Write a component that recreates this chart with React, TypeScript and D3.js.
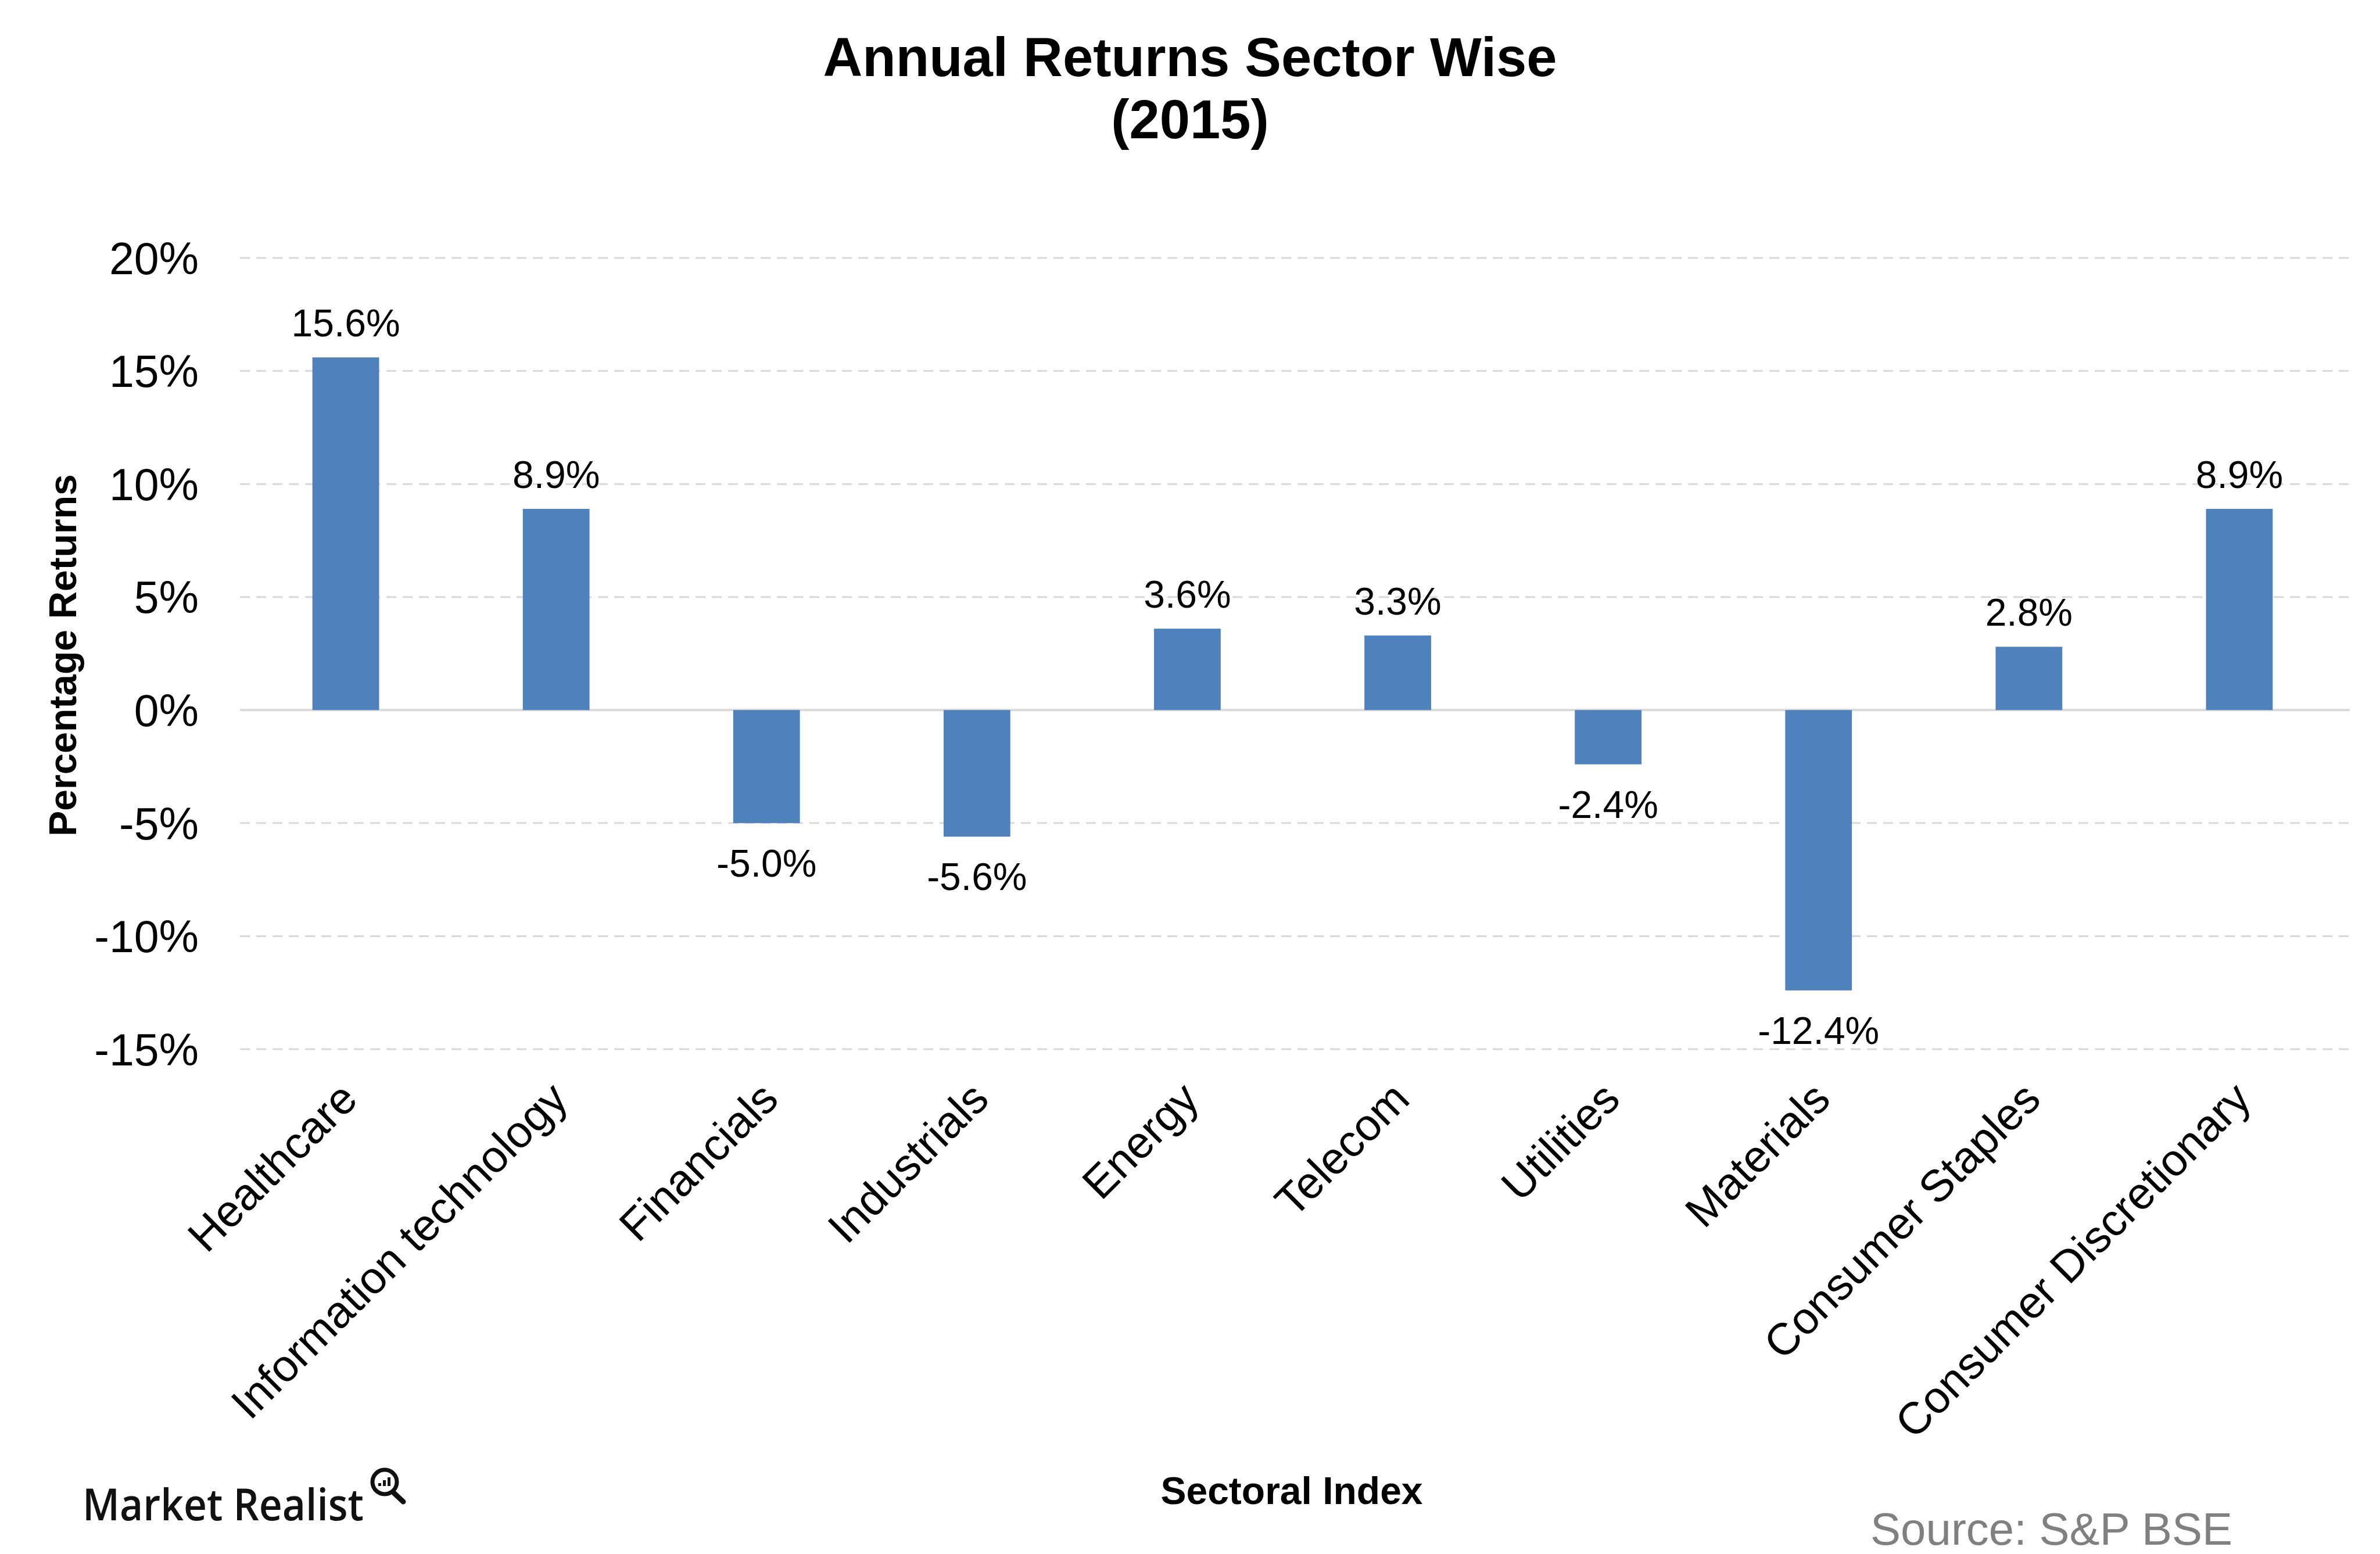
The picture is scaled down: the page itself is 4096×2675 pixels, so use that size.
import * as d3 from "d3";
import { FC, useEffect, useRef } from "react";

const SECTORS: string[] = [
  "Healthcare",
  "Information technology",
  "Financials",
  "Industrials",
  "Energy",
  "Telecom",
  "Utilities",
  "Materials",
  "Consumer Staples",
  "Consumer Discretionary",
];
const RETURNS: number[] = [15.6, 8.9, -5.0, -5.6, 3.6, 3.3, -2.4, -12.4, 2.8, 8.9];
const Y_TICKS: number[] = [20, 15, 10, 5, 0, -5, -10, -15];

const WIDTH = 4096;
const HEIGHT = 2675;
const FONT = "'Liberation Sans', Arial, sans-serif";
const BAR = "#4F81BD";
const GRID = "#D9D9D9";

const App: FC = () => {
  const svgRef = useRef<SVGSVGElement | null>(null);

  useEffect(() => {
    if (!svgRef.current) return;
    document.body.style.margin = "0";
    const svg = d3.select(svgRef.current);
    svg.selectAll("*").remove();

    const x = d3.scaleBand<string>().domain(SECTORS).range([414, 4035]);
    const y = d3.scaleLinear().domain([-15, 20]).range([1806, 444]);
    const barW = x.bandwidth() * 0.317;

    // title
    const title = svg
      .append("text")
      .attr("text-anchor", "middle")
      .attr("font-family", FONT)
      .attr("font-weight", "bold")
      .attr("font-size", 94)
      .attr("fill", "#000");
    title.append("tspan").attr("x", WIDTH / 2).attr("y", 131).text("Annual Returns Sector Wise");
    title.append("tspan").attr("x", WIDTH / 2).attr("y", 238).text("(2015)");

    // grid
    svg
      .append("g")
      .selectAll("line")
      .data(Y_TICKS)
      .enter()
      .append("line")
      .attr("x1", 413)
      .attr("x2", 4044)
      .attr("y1", (d) => y(d))
      .attr("y2", (d) => y(d))
      .attr("stroke", GRID)
      .attr("stroke-width", (d) => (d === 0 ? 4 : 3))
      .attr("stroke-dasharray", (d) => (d === 0 ? null : "17 11"));

    // y tick labels
    svg
      .append("g")
      .selectAll("text")
      .data(Y_TICKS)
      .enter()
      .append("text")
      .attr("x", 342)
      .attr("y", (d) => y(d))
      .attr("dy", "0.36em")
      .attr("text-anchor", "end")
      .attr("font-family", FONT)
      .attr("font-size", 77)
      .text((d) => `${d}%`);

    // bars
    svg
      .append("g")
      .selectAll("rect")
      .data(RETURNS)
      .enter()
      .append("rect")
      .attr("x", (_, i) => (x(SECTORS[i]) as number) + (x.bandwidth() - barW) / 2)
      .attr("width", barW)
      .attr("y", (d) => y(Math.max(0, d)))
      .attr("height", (d) => Math.abs(y(d) - y(0)))
      .attr("fill", BAR);

    // value labels
    svg
      .append("g")
      .selectAll("text")
      .data(RETURNS)
      .enter()
      .append("text")
      .attr("x", (_, i) => (x(SECTORS[i]) as number) + x.bandwidth() / 2)
      .attr("y", (d) => (d >= 0 ? y(d) - 36 : y(d) + 92))
      .attr("text-anchor", "middle")
      .attr("font-family", FONT)
      .attr("font-size", 66)
      .text((d) => `${d.toFixed(1)}%`);

    // category labels
    svg
      .append("g")
      .selectAll("text")
      .data(SECTORS)
      .enter()
      .append("text")
      .attr("transform", (d) => {
        const cx = (x(d) as number) + x.bandwidth() / 2 + 24;
        return `translate(${cx},1896) rotate(-45)`;
      })
      .attr("text-anchor", "end")
      .attr("font-family", FONT)
      .attr("font-size", 77)
      .text((d) => d);

    // axis titles
    svg
      .append("text")
      .attr("transform", `translate(131,1128) rotate(-90)`)
      .attr("text-anchor", "middle")
      .attr("font-family", FONT)
      .attr("font-weight", "bold")
      .attr("font-size", 66)
      .text("Percentage Returns");

    svg
      .append("text")
      .attr("x", 2223)
      .attr("y", 2589)
      .attr("text-anchor", "middle")
      .attr("font-family", FONT)
      .attr("font-weight", "bold")
      .attr("font-size", 66)
      .text("Sectoral Index");

    // source
    svg
      .append("text")
      .attr("x", 3842)
      .attr("y", 2659)
      .attr("text-anchor", "end")
      .attr("font-family", FONT)
      .attr("font-size", 78)
      .attr("fill", "#808080")
      .text("Source: S&P BSE");

    // logo
    const logo = svg.append("g");
    logo
      .append("text")
      .attr("x", 142)
      .attr("y", 2617)
      .attr("font-family", "'Open Sans', sans-serif")
      .attr("font-weight", 600)
      .attr("font-size", 76)
      .attr("fill", "#111")
      .attr("textLength", 484)
      .attr("lengthAdjust", "spacingAndGlyphs")
      .text("Market Realist");
    logo
      .append("circle")
      .attr("cx", 662)
      .attr("cy", 2551)
      .attr("r", 21)
      .attr("fill", "none")
      .attr("stroke", "#111")
      .attr("stroke-width", 7);
    logo
      .append("line")
      .attr("x1", 678)
      .attr("y1", 2570)
      .attr("x2", 694)
      .attr("y2", 2585)
      .attr("stroke", "#111")
      .attr("stroke-width", 9)
      .attr("stroke-linecap", "round");
    [0, 1, 2].forEach((k) => {
      logo
        .append("rect")
        .attr("x", 651 + k * 8)
        .attr("y", 2558 - (k + 1) * 5)
        .attr("width", 5)
        .attr("height", (k + 1) * 5)
        .attr("fill", "#111");
    });
  }, []);

  return (
    <svg
      ref={svgRef}
      width={WIDTH}
      height={HEIGHT}
      style={{ display: "block", background: "#fff" }}
    />
  );
};

export default App;
